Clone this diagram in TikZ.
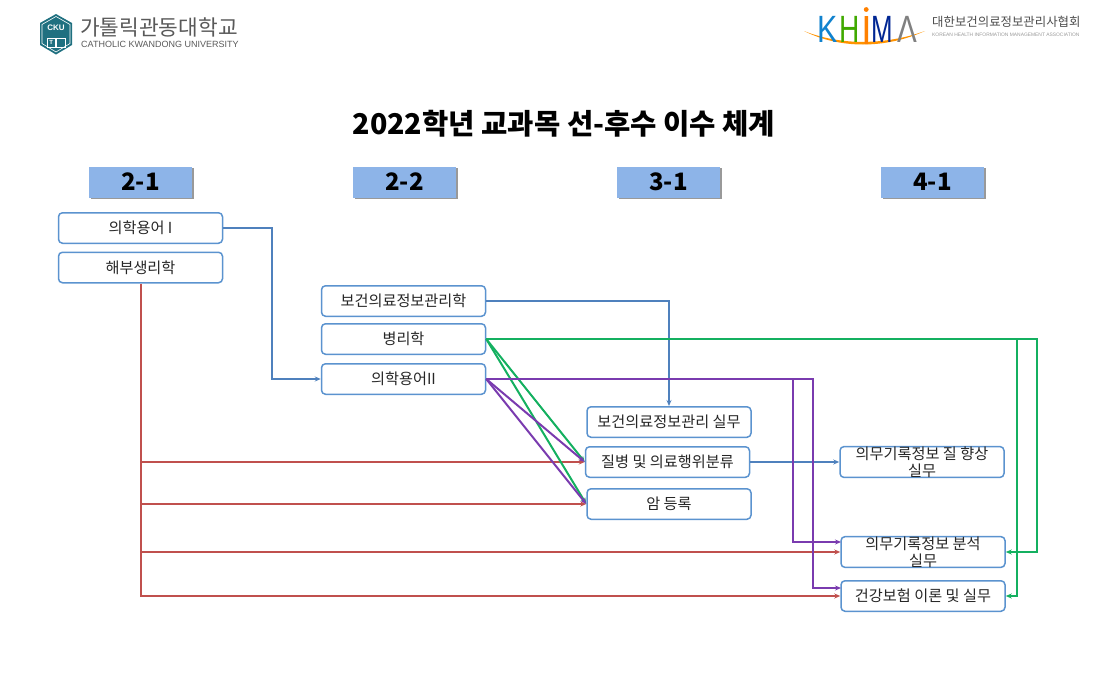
\documentclass[tikz,border=0pt]{standalone}
\usepackage{fontspec}
\setmainfont{Noto Sans CJK KR}
\newfontfamily\latinsans{Liberation Sans}
\usetikzlibrary{arrows.meta,calc,shadows}
\definecolor{boxblue}{HTML}{5B93CF}
\definecolor{headblue}{HTML}{8DB4E8}
\definecolor{linkblue}{HTML}{4F81BD}
\definecolor{linkred}{HTML}{C0504D}
\definecolor{linkgreen}{HTML}{14B060}
\definecolor{linkpurple}{HTML}{7A3BAF}
\definecolor{cku}{HTML}{1F7080}
\newcommand{\logoletter}[3]{\scalebox{#1}[1]{\textcolor{#2}{#3}}}
\tikzset{
  course/.style={draw=boxblue,line width=1.5pt,rounded corners=4pt,fill=white,minimum width=164pt,minimum height=30.5pt,inner sep=0pt,align=center,font=\fontsize{15.2}{17}\selectfont,text=black!85},
  head/.style={fill=headblue,minimum width=103pt,minimum height=31pt,inner sep=0pt,font=\fontsize{24}{26}\selectfont\bfseries,drop shadow={shadow xshift=1.8pt,shadow yshift=-1.8pt,fill=black!50,opacity=.8}},
  link/.style={line width=1.8pt,-{Stealth[length=6pt,width=5pt]}},
  blue link/.style={link,draw=linkblue},
  red link/.style={link,draw=linkred},
  green link/.style={link,draw=linkgreen,line width=2pt},
  purple link/.style={link,draw=linkpurple,line width=2pt},
  letter/.style={font=\latinsans\fontsize{38}{38}\selectfont,inner sep=0pt,anchor=base},
}
\begin{document}
\begin{tikzpicture}[x=1pt,y=-1pt]
\useasboundingbox (0,0) rectangle (1108,691);
% title
\node[font=\fontsize{28.6}{30}\selectfont\bfseries] (title) at (564,124) {2022학년 교과목 선-후수 이수 체계};
% headers
\node[head] (h1) at (140.5,182) {2-1};
\node[head] (h2) at (404.5,182) {2-2};
\node[head] (h3) at (668.5,182) {3-1};
\node[head] (h4) at (932.5,182) {4-1};
% courses
\node[course] (a1) at (140.5,228) {의학용어 I};
\node[course] (a2) at (140.5,267.5) {해부생리학};
\node[course] (b1) at (403.5,301) {보건의료정보관리학};
\node[course] (b2) at (403.5,339) {병리학};
\node[course] (b3) at (403.5,379) {의학용어II};
\node[course] (c1) at (669,422) {보건의료정보관리 실무};
\node[course] (c2) at (667.5,462) {질병 및 의료행위분류};
\node[course] (c3) at (669,504) {암 등록};
\node[course] (d1) at (922,462) {의무기록정보 질 향상\\실무};
\node[course] (d2) at (923,552) {의무기록정보 분석\\실무};
\node[course] (d3) at (923,596) {건강보험 이론 및 실무};
% junctions
\coordinate (gfar) at (1037,339);
\coordinate (gnear) at (1017,339);
\coordinate (pnear) at (793,379);
\coordinate (pfar) at (813,379);
\coordinate (rtop) at (141,283);
% blue
\draw[blue link] (a1.east) -- (272,228) |- (b3.west);
\draw[blue link] (b1.east) -| (c1.north);
\draw[blue link] (c2.east) -- (d1.west);
% red
\draw[red link] (a2.south -| rtop) -- (141,596) -- (d3.west);
\draw[red link] (141,462) -- (c2.west);
\draw[red link] (141,504) -- (c3.west);
\draw[red link] (141,552) -- (d2.west);
% green
\draw[green link] (b2.east) -- (c2.west);
\draw[green link] (b2.east) -- (c3.west);
\draw[green link] (b2.east) -- (gfar) |- (d2.east);
\draw[green link] (gnear) |- (d3.east);
% purple
\draw[purple link] (b3.east) -- (c2.west);
\draw[purple link] (b3.east) -- (c3.west);
\draw[purple link] (b3.east) -- (pfar) |- (841,588);
\draw[purple link] (pnear) |- (841,542);
% CKU logo
\fill[cku] (56,14) -- (72,23) -- (72,45) -- (56,54.5) -- (40,45) -- (40,23) -- cycle;
\draw[white,line width=.6pt] (56,16.5) -- (70,24.5) -- (70,43.5) -- (56,52) -- (42,43.5) -- (42,24.5) -- cycle;
\node[text=white,font=\latinsans\bfseries\fontsize{8}{8}\selectfont,inner sep=0pt] (ckut) at (56,28) {CKU};
\draw[white,line width=.7pt] (47,38) rectangle (55.5,47) (56.5,38) rectangle (65,47);
\node[text=white,font=\latinsans\bfseries\fontsize{6}{6}\selectfont,inner sep=0pt] (ckub) at (51.2,42.5) {T};
\node[text=black!65,font=\fontsize{21.4}{22}\selectfont,inner sep=0pt,anchor=west] (kname) at (80,27.5) {가톨릭관동대학교};
\node[text=black!65,font=\latinsans\fontsize{9}{9}\selectfont,inner sep=0pt,anchor=west] (ename) at (81,44) {CATHOLIC KWANDONG UNIVERSITY};
% KHIMA logo
\fill[orange!85!yellow] (804,31) .. controls (840,49) and (885,49) .. (925,31) .. controls (885,45.5) and (840,45.5) .. cycle;
\node[letter] (lk) at (828,42.5) {\logoletter{.8}{cyan!65!blue}{K}};
\node[letter] (lh) at (850,42.5) {\logoletter{.74}{green!55!black!75!yellow}{H}};
\fill[orange] (864.5,16) rectangle (868,44) (866.2,9.5) circle (2.4);
\node[letter] (lm) at (882.5,42.5) {\logoletter{.68}{blue!50!black!85!cyan}{M}};
\node[letter] (la) at (907.5,42.5) {\logoletter{.78}{gray}{Λ}};
\node[text=black!70,font=\fontsize{12.4}{13}\selectfont,inner sep=0pt,anchor=west] (kh) at (932,21.5) {대한보건의료정보관리사협회};
\node[text=black!40,font=\latinsans\fontsize{4.9}{5}\selectfont,inner sep=0pt,anchor=west] (keh) at (932,34.5) {KOREAN HEALTH INFORMATION MANAGEMENT ASSOCIATION};
\end{tikzpicture}
\end{document}
